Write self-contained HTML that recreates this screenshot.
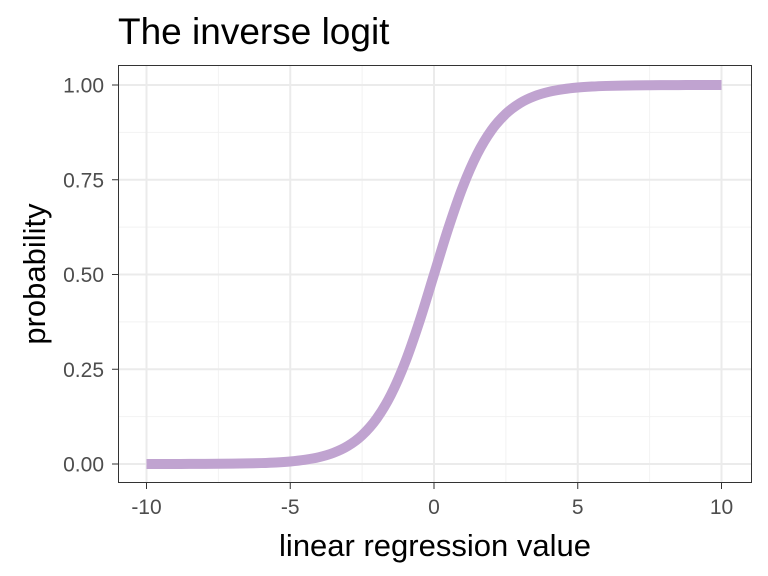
<!DOCTYPE html>
<html><head><meta charset="utf-8"><style>
body{margin:0;background:#fff;}
svg{display:block;font-family:"Liberation Sans",sans-serif;}
</style></head><body>
<svg id="chart" width="768" height="576">
<text x="118" y="44" font-size="37" fill="#000">The inverse logit</text>
<g id="grid"></g>
<g id="series"></g>
<rect x="118.5" y="65.5" width="633" height="417" fill="none" stroke="#333" stroke-width="1"/>
<g id="axes"></g>
<text x="435" y="556" font-size="31" text-anchor="middle" fill="#000">linear regression value</text>
<text transform="translate(45,274) rotate(-90)" font-size="31" text-anchor="middle" fill="#000">probability</text>
</svg>
<script>
const xVals=[-10,-9.5,-9,-8.5,-8,-7.5,-7,-6.5,-6,-5.5,-5,-4.5,-4,-3.5,-3,-2.5,-2,-1.5,-1,-0.5,0,0.5,1,1.5,2,2.5,3,3.5,4,4.5,5,5.5,6,6.5,7,7.5,8,8.5,9,9.5,10];
const yVals=[0.0000454,0.0000749,0.000123,0.000203,0.000335,0.000553,0.000911,0.0015,0.00247,0.00407,0.00669,0.011,0.018,0.0293,0.0474,0.0759,0.1192,0.1824,0.2689,0.3775,0.5,0.6225,0.7311,0.8176,0.8808,0.9241,0.9526,0.9707,0.982,0.989,0.99331,0.99593,0.99753,0.9985,0.999089,0.999447,0.999665,0.999797,0.999877,0.999925,0.9999546];
const xTicks=[-10,-5,0,5,10];
const xTickLabels=["-10","-5","0","5","10"];
const xMinor=[-7.5,-2.5,2.5,7.5];
const yTicks=[0,0.25,0.5,0.75,1];
const yTickLabels=["0.00","0.25","0.50","0.75","1.00"];
const yMinor=[0.125,0.375,0.625,0.875];
const NS="http://www.w3.org/2000/svg";
function xs(v){return 434+v*28.75;}
function ys(v){return 464-v*379;}
function mk(tag,attrs,parent){const e=document.createElementNS(NS,tag);for(const k in attrs)e.setAttribute(k,attrs[k]);parent.appendChild(e);return e;}
const grid=document.getElementById('grid'),axes=document.getElementById('axes'),series=document.getElementById('series');
xMinor.forEach(v=>{const l=mk('line',{x1:xs(v),x2:xs(v),y1:66,y2:482,stroke:'#f2f2f2','stroke-width':1},grid);

});
yMinor.forEach(v=>{const l=mk('line',{x1:119,x2:751,y1:ys(v),y2:ys(v),stroke:'#f2f2f2','stroke-width':1},grid);

});
xTicks.forEach((v,i)=>{const l=mk('line',{x1:xs(v),x2:xs(v),y1:66,y2:482,stroke:'#ebebeb','stroke-width':2},grid);


const t=mk('line',{x1:xs(v),x2:xs(v),y1:483,y2:489,stroke:'#333','stroke-width':1},axes);


const tx=mk('text',{x:xs(v),y:514,'font-size':21,'text-anchor':'middle',fill:'#4d4d4d'},axes);tx.textContent=xTickLabels[i];

});
yTicks.forEach((v,i)=>{const l=mk('line',{x1:119,x2:751,y1:ys(v),y2:ys(v),stroke:'#ebebeb','stroke-width':2},grid);


const t=mk('line',{x1:112,x2:118,y1:ys(v),y2:ys(v),stroke:'#333','stroke-width':1},axes);


const tx=mk('text',{x:104,y:ys(v)+7.5,'font-size':21,'text-anchor':'end',fill:'#4d4d4d'},axes);tx.textContent=yTickLabels[i];

});
const P=xVals.map((x,i)=>[xs(x),ys(yVals[i])]);
let d='M'+P[0][0]+','+P[0][1];
for(let i=0;i<P.length-1;i++){const p0=P[Math.max(0,i-1)],p1=P[i],p2=P[i+1],p3=P[Math.min(P.length-1,i+2)];
d+=' C'+(p1[0]+(p2[0]-p0[0])/6)+','+(p1[1]+(p2[1]-p0[1])/6)+' '+(p2[0]-(p3[0]-p1[0])/6)+','+(p2[1]-(p3[1]-p1[1])/6)+' '+p2[0]+','+p2[1];}
const pl=mk('path',{d:d,fill:'none',stroke:'#c0a3d0','stroke-width':10,'stroke-linejoin':'round'},series);


</script>
</body></html>
